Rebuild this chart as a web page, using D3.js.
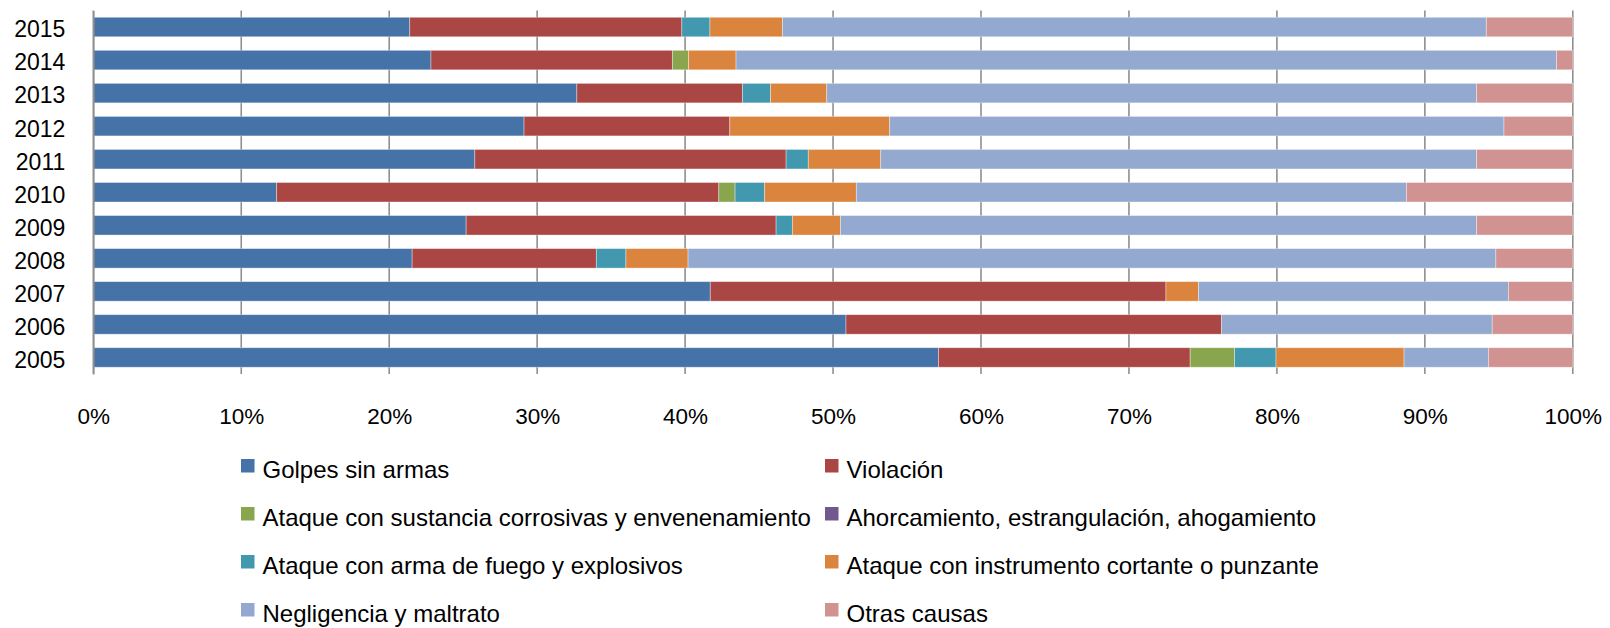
<!DOCTYPE html>
<html>
<head>
<meta charset="utf-8">
<script src="https://cdn.jsdelivr.net/npm/d3@7"></script>
<style>
  html, body { margin: 0; padding: 0; background: #fff; }
  #chart { width: 1610px; height: 628px; }
  text { font-family: "Liberation Sans", Arial, sans-serif; fill: #000; }
</style>
</head>
<body>
<div id="chart"></div>
<script>
// years, top to bottom as in the picture
const years = ["2015", "2014", "2013", "2012", "2011", "2010", "2009", "2008", "2007", "2006", "2005"];

const seriesNames = [
  "Golpes sin armas",
  "Violación",
  "Ataque con sustancia corrosivas y envenenamiento",
  "Ahorcamiento, estrangulación, ahogamiento",
  "Ataque con arma de fuego y explosivos",
  "Ataque con instrumento cortante o punzante",
  "Negligencia y maltrato",
  "Otras causas"
];

// shares (%) per year, same order as years
const golpes       = [21.4, 22.8, 32.7, 29.1, 25.8, 12.4, 25.2, 21.55, 41.7, 50.9, 57.1];
const violacion    = [18.4, 16.3, 11.2, 13.9, 21.05, 29.9, 20.95, 12.45, 30.8, 25.4, 17.0];
const corrosivas   = [0, 1.1, 0, 0, 0, 1.1, 0, 0, 0, 0, 3.0];
const ahorcamiento = [0, 0, 0, 0, 0, 0, 0, 0, 0, 0, 0];
const fuego        = [1.9, 0, 1.9, 0, 1.5, 2.0, 1.1, 2.0, 0, 0, 2.8];
const cortante     = [4.9, 3.2, 3.8, 10.8, 4.9, 6.2, 3.25, 4.2, 2.2, 0, 8.65];
const negligencia  = [47.6, 55.4, 43.95, 41.5, 40.3, 37.2, 43.0, 54.6, 20.95, 18.3, 5.7];
const otras        = [5.85, 1.1, 6.5, 4.65, 6.5, 11.25, 6.5, 5.2, 4.35, 5.45, 5.7];

const xTicks = [0, 0.1, 0.2, 0.3, 0.4, 0.5, 0.6, 0.7, 0.8, 0.9, 1];

const colors = ["#4572A7", "#AA4643", "#89A54E", "#71588F", "#4198AF", "#DB843D", "#93A9CF", "#D19392"];

function renderChart(containerSelector) {
    const container = d3.select(containerSelector);
    const width = 1610, height = 628;

    const allValues = [golpes, violacion, corrosivas, ahorcamiento, fuego, cortante, negligencia, otras];
    const keys = seriesNames;

    const rows = years.map((y, i) => {
        const r = { year: y };
        keys.forEach((k, j) => r[k] = allValues[j][i]);
        return r;
    });

    const svg = container.append("svg")
        .attr("width", width)
        .attr("height", height);

    const series = d3.stack()
        .keys(keys)
        .offset(d3.stackOffsetExpand)(rows);

    const plot = { left: 93.3, right: 1572.8, top: 10.5, bottom: 374 };

    const x = d3.scaleLinear()
        .domain([0, 1])
        .range([plot.left, plot.right]);

    const y = d3.scaleBand()
        .domain(years)
        .range([plot.top, plot.bottom])
        .paddingInner(0.41)
        .paddingOuter(0.205);

    const color = d3.scaleOrdinal().domain(keys).range(colors);

    // vertical grid lines (behind bars)
    svg.append("g")
        .selectAll("line")
        .data(xTicks)
        .join("line")
        .attr("x1", d => x(d))
        .attr("x2", d => x(d))
        .attr("y1", plot.top)
        .attr("y2", plot.bottom)
        .attr("stroke", "#8f8f8f")
        .attr("stroke-width", 1.6);

    // bars
    svg.append("g")
        .selectAll("g")
        .data(series)
        .join("g")
        .attr("fill", d => color(d.key))
        .selectAll("rect")
        .data(d => d)
        .join("rect")
        .attr("x", d => x(d[0]))
        .attr("y", d => y(d.data.year))
        .attr("width", d => Math.max(0, x(d[1]) - x(d[0])))
        .attr("height", y.bandwidth())
        .attr("stroke", "rgba(255,255,255,0.45)")
        .attr("stroke-width", 0.8);

    // y axis (years)
    const yAxis = svg.append("g")
        .attr("transform", `translate(${plot.left},0)`)
        .call(d3.axisLeft(y).tickSize(0).tickPadding(28));
    yAxis.select(".domain").attr("stroke", "#8f8f8f").attr("stroke-width", 1.6);
    yAxis.selectAll("text")
        .style("font-family", "'Liberation Sans', Arial, sans-serif")
        .style("font-size", "23px")
        .attr("fill", "#000")
        .attr("dy", "0.45em");

    // x axis labels
    const xAxis = svg.append("g")
        .attr("transform", `translate(0,${plot.bottom})`)
        .call(d3.axisBottom(x).tickValues(xTicks).tickFormat(d3.format(".0%")).tickSize(0).tickPadding(34));
    xAxis.select(".domain").remove();
    xAxis.selectAll("text")
        .style("font-family", "'Liberation Sans', Arial, sans-serif")
        .style("font-size", "22.5px")
        .attr("fill", "#000");

    // legend: two columns, four rows
    const legend = svg.append("g");
    const colX = [241, 825];
    const rowY0 = 459, rowStep = 48;
    keys.forEach((k, i) => {
        const g = legend.append("g")
            .attr("transform", `translate(${colX[i % 2]},${rowY0 + Math.floor(i / 2) * rowStep})`);
        g.append("rect")
            .attr("width", 13.5)
            .attr("height", 13.5)
            .attr("fill", color(k));
        g.append("text")
            .attr("x", 21.5)
            .attr("y", 19.3)
            .style("font-size", "24px")
            .text(k);
    });
}

renderChart("#chart");
</script>
</body>
</html>
